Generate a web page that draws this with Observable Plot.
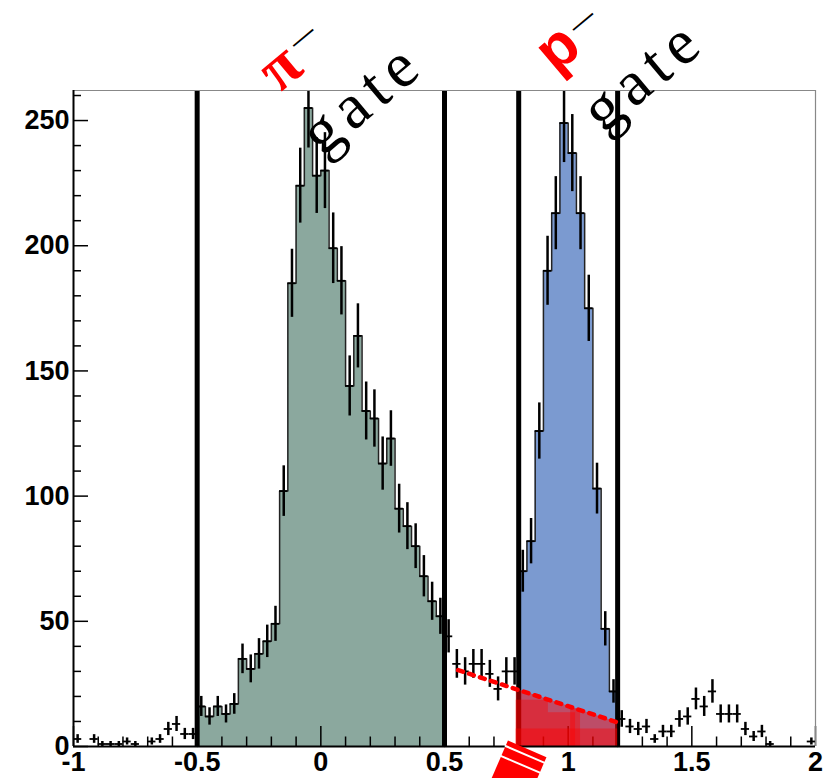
<!DOCTYPE html>
<html>
<head>
<meta charset="utf-8">
<script src="https://cdn.jsdelivr.net/npm/d3@7"></script>
<script src="https://cdn.jsdelivr.net/npm/@observablehq/plot@0.6"></script>
<style>
  html, body { margin: 0; padding: 0; background: #fff; }
  svg { display: block; }
</style>
</head>
<body>
<script>
// ---- histogram definition (90 bins from -1 to 2) ----
const xMin = -1;
const binWidth = 1 / 30;
const counts = [
  3, 0, 3, 1, 1, 1, 2, 1, 0, 2,
  3, 7, 9, 5, 5, 16, 12, 16, 13, 17,
  35, 31, 37, 42, 49, 102, 185, 224, 255, 228,
  230, 199, 186, 144, 164, 134, 131, 113, 123, 95,
  88, 80, 68, 58, 52, 44, 33, 30, 33, 33,
  29, 23, 30, 30, 70, 82, 126, 190, 213, 249,
  237, 213, 175, 103, 47, 22, 11, 8, 7, 8,
  3, 6, 6, 11, 12, 19, 16, 22, 13, 13,
  13, 7, 4, 6, 1, 0, 0, 0, 0, 2
];

// gates
const pionGate = [-0.5, 0.5];
const protonGate = [0.8, 1.2];
const gateLines = [-0.5, 0.5, 0.8, 1.2];

// linear background estimate (red dotted) and shaded region
const bgFit = [{x: 0.555, y: 30.5}, {x: 1.21, y: 9.3}];
const bgShade = [{x: 0.79, y: 23.0}, {x: 1.2, y: 9.6}];
const bgBlocks = [
  {x1: 0.79, x2: 0.92, y1: 0, y2: 18.5},
  {x1: 0.92, x2: 1.03, y1: 0, y2: 13.5},
  {x1: 1.01, x2: 1.05, y1: 0, y2: 15},
  {x1: 0.79, x2: 1.2, y1: 0, y2: 7}
];

// decoration: red arrow tail below the axis
const arrowBody = [{x: 0.8344, y: -0.92}, {x: 0.7382, y: -22.9}];
const arrowStripes = [
  {id: 1, x: 0.7467, y: 0.2}, {id: 1, x: 0.9028, y: -6.43},
  {id: 2, x: 0.7293, y: -3.83}, {id: 2, x: 0.8854, y: -10.46}
];

// labels
const pionLabel = [{x: -0.168, y: 271.5, text: "π"}];
const protonLabel = [{x: 0.957, y: 279.0, text: "p"}];
const minusLabels = [{x: -0.076, y: 283.6, text: "—"}, {x: 1.055, y: 290.0, text: "—"}];
const gateLabels = [{x: 0.0055, y: 235.2, text: "gate"}, {x: 1.1417, y: 244.4, text: "gate"}];

// axes ticks
const xMajorTicks = [-1, -0.5, 0, 0.5, 1, 1.5, 2];
const xMinorTicks = [-0.9, -0.8, -0.7, -0.6, -0.4, -0.3, -0.2, -0.1, 0.1, 0.2, 0.3, 0.4,
                     0.6, 0.7, 0.8, 0.9, 1.1, 1.2, 1.3, 1.4, 1.6, 1.7, 1.8, 1.9];
const yMajorTicks = [0, 50, 100, 150, 200, 250];
const yMinorTicks = [10, 20, 30, 40, 60, 70, 80, 90, 110, 120, 130, 140, 160, 170, 180, 190,
                     210, 220, 230, 240, 260];

// colours
const pionFill = "#8ba89e";
const protonFill = "#7b9ad0";

// ---- derived tables ----
const bins = counts.map((v, i) => ({
  x0: xMin + i * binWidth,
  x1: xMin + (i + 1) * binWidth,
  xc: xMin + (i + 0.5) * binWidth,
  v
}));
const eps = 1e-9;
function stepPoints(lo, hi) {
  const sel = bins.filter(b => b.x0 >= lo - eps && b.x1 <= hi + eps);
  const pts = [{x: sel[0].x0, y: 0}];
  for (const b of sel) { pts.push({x: b.x0, y: b.v}); pts.push({x: b.x1, y: b.v}); }
  pts.push({x: sel[sel.length - 1].x1, y: 0});
  return pts;
}
const pionStep = stepPoints(pionGate[0], pionGate[1]);
const protonStep = stepPoints(protonGate[0], protonGate[1]);
const nonEmpty = bins.filter(b => b.v > 0);

const chart = Plot.plot({
  width: 832,
  height: 778,
  marginLeft: 73,
  marginRight: 17,
  marginTop: 90,
  marginBottom: 32,
  x: {domain: [-1, 2]},
  y: {domain: [0, 262]},
  style: {
    fontFamily: "'Liberation Sans', Arial, sans-serif",
    fontSize: "27px",
    fontWeight: "bold",
    color: "black",
    background: "white",
    overflow: "visible"
  },
  marks: [
    // filled gated histograms
    Plot.areaY(pionStep, {x: "x", y1: 0, y2: "y", fill: pionFill}),
    Plot.areaY(protonStep, {x: "x", y1: 0, y2: "y", fill: protonFill}),
    Plot.line(pionStep, {x: "x", y: "y", stroke: "#222", strokeWidth: 1.5}),
    Plot.line(protonStep, {x: "x", y: "y", stroke: "#222", strokeWidth: 1.5}),
    // ticks (inward)
    Plot.ruleY(yMajorTicks, {y: d => d, x1: -1, x2: -1, insetRight: -15, stroke: "black", strokeWidth: 1.5}),
    Plot.ruleY(yMinorTicks, {y: d => d, x1: -1, x2: -1, insetRight: -8, stroke: "black", strokeWidth: 1.5}),
    Plot.ruleX(xMajorTicks, {x: d => d, y1: 0, y2: 0, insetTop: -20, stroke: "black", strokeWidth: 1.5}),
    Plot.ruleX(xMinorTicks, {x: d => d, y1: 0, y2: 0, insetTop: -9.5, stroke: "black", strokeWidth: 1.5}),
    // gate lines
    Plot.ruleX(gateLines, {stroke: "black", strokeWidth: 5}),
    // background shading
    Plot.areaY(bgShade, {x: "x", y1: 0, y2: "y", fill: "#ff0000", fillOpacity: 0.5}),
    Plot.rect(bgBlocks, {x1: "x1", x2: "x2", y1: "y1", y2: "y2", fill: "#ff0000", fillOpacity: 0.4}),
    // error bars
    Plot.ruleX(nonEmpty, {x: "xc", y1: d => d.v - Math.sqrt(d.v), y2: d => d.v + Math.sqrt(d.v), stroke: "black", strokeWidth: 2.5, clip: true}),
    Plot.ruleY(nonEmpty, {y: "v", x1: "x0", x2: "x1", stroke: "black", strokeWidth: 1.8}),
    // dotted background line
    Plot.line(bgFit, {x: "x", y: "y", stroke: "#ff0000", strokeWidth: 4.5, strokeDasharray: "5,6.5"}),
    // frame
    Plot.ruleY([262], {stroke: "#888", strokeWidth: 1.2}),
    Plot.ruleX([2], {stroke: "#888", strokeWidth: 1.2}),
    Plot.ruleX([-1], {stroke: "black", strokeWidth: 2}),
    Plot.ruleY([0], {stroke: "black", strokeWidth: 2}),
    // axis labels
    Plot.axisX(xMajorTicks, {anchor: "bottom", tickSize: 0, tickPadding: 5, tickFormat: d => String(d)}),
    Plot.axisY(yMajorTicks, {anchor: "left", tickSize: 0, tickPadding: 4, tickFormat: d => String(d)}),
    // red arrow tail
    Plot.line(arrowBody, {x: "x", y: "y", stroke: "#ff0000", strokeWidth: 42, strokeLinecap: "butt"}),
    Plot.line(arrowStripes, {x: "x", y: "y", z: "id", stroke: "white", strokeWidth: 2}),
    // labels
    Plot.text(pionLabel, {x: "x", y: "y", text: "text", fill: "#ff0000", fontFamily: "'Liberation Serif', serif", fontWeight: "bold", fontSize: 64, rotate: -40, textAnchor: "middle", lineAnchor: "middle"}),
    Plot.text(protonLabel, {x: "x", y: "y", text: "text", fill: "#ff0000", fontFamily: "'Liberation Sans', sans-serif", fontWeight: "bold", fontSize: 60, rotate: -40, textAnchor: "middle", lineAnchor: "middle"}),
    Plot.text(minusLabels, {x: "x", y: "y", text: "text", fill: "black", fontFamily: "'Liberation Sans', sans-serif", fontWeight: "normal", fontSize: 26, rotate: -40, textAnchor: "middle", lineAnchor: "middle"}),
    Plot.text(gateLabels, {x: "x", y: "y", text: "text", fill: "black", fontFamily: "'Liberation Serif', serif", fontWeight: "normal", fontSize: 64, rotate: -40, textAnchor: "start", lineAnchor: "bottom"})
  ]
});
d3.select(chart).selectAll("text")
  .filter(function() { return this.textContent === "gate"; })
  .attr("letter-spacing", "8");
document.body.appendChild(chart);
</script>
</body>
</html>
